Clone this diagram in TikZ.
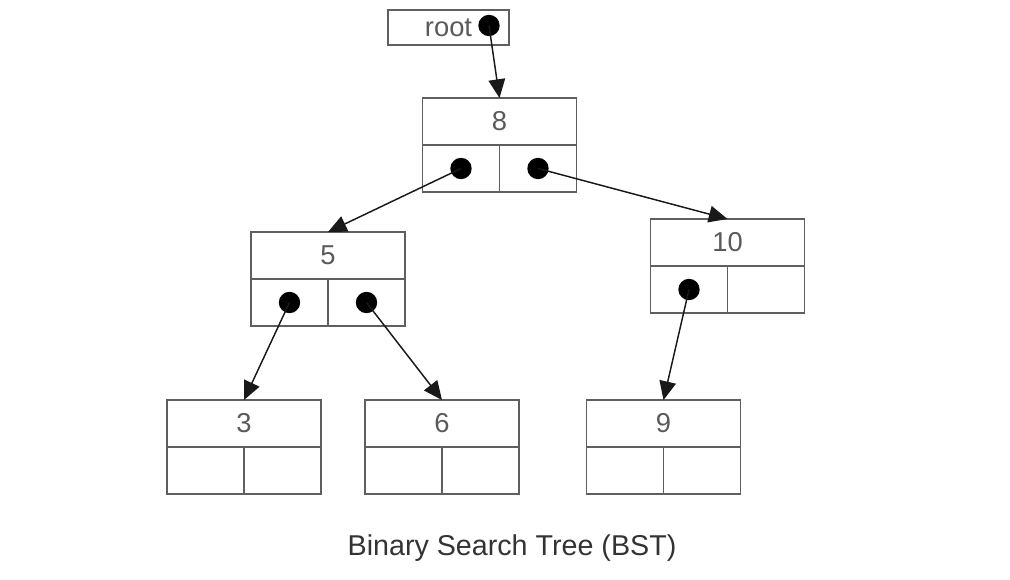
\documentclass[tikz,border=0pt]{standalone}
\usepackage{fontspec}
\setmainfont{Liberation Sans}
\usetikzlibrary{arrows.meta}
\definecolor{boxgray}{HTML}{5F5F5F}
\definecolor{textgray}{HTML}{5A5A5A}

\begin{document}
\begin{tikzpicture}[x=0.75pt, y=-0.75pt,
    keybox/.style={draw=boxgray, line width=1.4pt, minimum width=115.5pt,
        minimum height=35.25pt, inner sep=0pt, outer sep=0pt, text=textgray,
        font=\fontsize{20.5}{20.5}\selectfont},
    ptrbox/.style={draw=boxgray, line width=1.4pt, minimum width=57.75pt,
        minimum height=35.25pt, inner sep=0pt, outer sep=0pt},
    ptr/.style={circle, fill=black, minimum size=16pt, inner sep=0pt},
    link/.style={-{Triangle[length=14pt,width=12.5pt]}, line width=1.1pt, black!90}]
    \useasboundingbox (0,0) rectangle (1010,580);

    % Tree nodes: key on top, two pointer cells below
    \foreach \name/\x/\y/\key in {
        n8/499.5/121.5/8, n5/328/255.5/5, n10/727.5/242.5/10,
        n3/244/423.5/3, n6/442/423.5/6, n9/663.5/423.5/9
    } {
        \node[keybox] (\name) at (\x,\y) {\key};
        \node[ptrbox, anchor=north east] (\name l) at (\name.south) {};
        \node[ptrbox, anchor=north west] (\name r) at (\name.south) {};
    }

    % Root pointer
    \node[keybox, minimum width=90.75pt, minimum height=26.25pt] (root) at (448.5,27.5) {root};
    \node[ptr] (droot) at (489,25.5) {};

    % Child pointers
    \node[ptr] (d8l) at (n8l.center) {};
    \node[ptr] (d8r) at (n8r.center) {};
    \node[ptr] (d5l) at (n5l.center) {};
    \node[ptr] (d5r) at (n5r.center) {};
    \node[ptr] (d10l) at (n10l.center) {};

    \draw[link] (droot.center) -- (n8.north);
    \draw[link] (d8l.center) -- (n5.north);
    \draw[link] (d8r.center) -- (n10.north);
    \draw[link] (d5l.center) -- (n3.north);
    \draw[link] (d5r.center) -- (n6.north);
    \draw[link] (d10l.center) -- (n9.north);

    \node[text=black!80, font=\fontsize{21.5}{21.5}\selectfont] (caption) at (512,548) {Binary Search Tree (BST)};
\end{tikzpicture}
\end{document}
